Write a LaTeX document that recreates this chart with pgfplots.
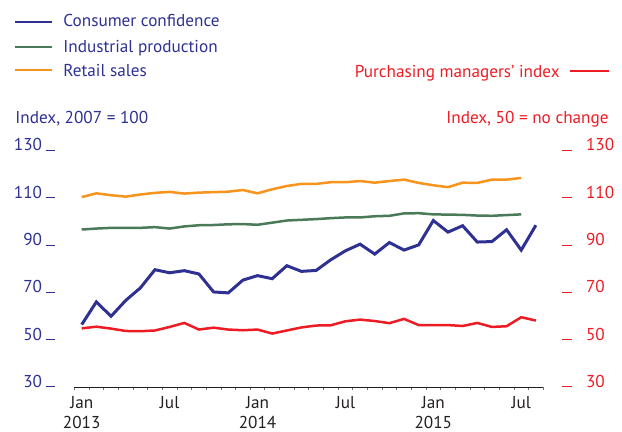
\documentclass[border=0pt]{standalone}
\usepackage{fontspec}
\setmainfont{PT Sans}
\usepackage{pgfplots}
\usepackage{pgfplotstable}
\pgfplotsset{compat=1.18}
\definecolor{cblue}{HTML}{2E3192}
\definecolor{cgreen}{HTML}{4A7A5A}
\definecolor{corange}{HTML}{F7941D}
\definecolor{cred}{HTML}{ED1C24}
\definecolor{ctext}{HTML}{231F20}

% months counted from Jan 2013 (0); consumer confidence and PMI run to Aug 2015 (31)
\pgfplotstableread{
m   cc     pmi
0   56.6   55.0
1   66.2   55.7
2   60.1   54.9
3   66.8   53.9
4   72.1   53.8
5   79.8   54.1
6   78.5   55.6
7   79.4   57.3
8   78.0   54.5
9   70.4   55.3
10  70.0   54.5
11  75.4   54.2
12  77.3   54.5
13  76.0   52.8
14  81.5   54.1
15  79.1   55.4
16  79.5   56.2
17  84.0   56.3
18  87.8   58.0
19  90.6   58.7
20  86.4   58.1
21  91.3   57.2
22  88.1   59.0
23  90.3   56.4
24  100.6  56.4
25  95.7   56.4
26  98.4   56.0
27  91.5   57.3
28  91.7   55.6
29  96.7   55.9
30  88.1   59.7
31  98.6   58.3
}\monthly
% industrial production and retail sales run to Jul 2015 (30)
\pgfplotstableread{
m   ip     rs
0   96.8   110.5
1   97.2   112.1
2   97.5   111.3
3   97.5   110.7
4   97.5   111.6
5   97.8   112.3
6   97.2   112.7
7   98.1   112.0
8   98.6   112.4
9   98.7   112.6
10  99.0   112.8
11  99.1   113.5
12  98.8   112.1
13  99.7   113.8
14  100.6  115.2
15  100.9  116.1
16  101.2  116.1
17  101.6  116.8
18  101.9  116.8
19  101.9  117.3
20  102.4  116.6
21  102.6  117.3
22  103.6  117.9
23  103.7  116.5
24  103.2  115.5
25  103.1  114.7
26  103.0  116.6
27  102.7  116.5
28  102.6  117.9
29  102.9  117.9
30  103.2  118.6
}\activity

\begin{document}
\begin{tikzpicture}[font=\fontsize{8.6}{10}\selectfont]
\pgfplotsset{
  base/.style={
    at={(0,0)}, anchor=south west,
    scale only axis, width=234.4pt, height=118.25pt,
    xmin=-0.5, xmax=31.5, ymin=30, ymax=130,
    ytick={30,50,...,130},
    /pgf/number format/assume math mode=true,
    clip=false,
  }
}
\begin{axis}[base,
  axis x line*=bottom, axis y line*=left,
  y axis line style={draw=none},
  x axis line style={line width=0.6pt, ctext},
  xtick={0,6,12,18,24,30},
  xticklabels={{Jan\\2013},{Jul},{Jan\\2014},{Jul},{Jan\\2015},{Jul}},
  xticklabel style={align=center, anchor=north, inner sep=0pt, yshift=-4.5pt, text=ctext},
  minor xtick={-0.5,0.5,...,31.5},
  major tick length=0pt, minor tick length=1.3pt,
  tick align=outside,
  minor tick style={black!55, line width=0.4pt},
  yticklabel={\pgfmathprintnumber{\tick}\hspace{1.8pt}\rule{4.85pt}{0.5pt}},
  yticklabel style={anchor=base east, inner sep=0pt, xshift=-9.35pt, text=cblue},
]
\addplot[corange, line width=1.25pt, mark=none] table[x=m, y=rs] {\activity};
\addplot[cgreen, line width=1.25pt, mark=none] table[x=m, y=ip] {\activity};
\addplot[cblue, line width=1.5pt, mark=none] table[x=m, y=cc] {\monthly};
\end{axis}
\begin{axis}[base,
  axis x line=none, axis y line*=right,
  y axis line style={draw=none},
  major tick length=0pt,
  yticklabel={\rule{5pt}{0.5pt}\hspace{6.85pt}\pgfmathprintnumber{\tick}},
  yticklabel style={anchor=base west, inner sep=0pt, xshift=9.4pt, text=cred},
]
\addplot[cred, line width=1.25pt, mark=none] table[x=m, y=pmi] {\monthly};
\end{axis}

% legend and axis titles
\draw[cblue, line width=1pt] (-29.7pt,182.9pt) -- (-11.2pt,182.9pt);
\node[anchor=base west, inner sep=0pt, text=cblue] at (-5.7pt,180.25pt) {Consumer confidence};
\draw[cgreen, line width=1pt] (-29.7pt,170.4pt) -- (-11.2pt,170.4pt);
\node[anchor=base west, inner sep=0pt, text=cblue] at (-5.7pt,167.4pt) {Industrial production};
\draw[corange, line width=1pt] (-29.7pt,158.75pt) -- (-11.2pt,158.75pt);
\node[anchor=base west, inner sep=0pt, text=cblue] at (-5.7pt,155.6pt) {Retail sales};
\node[anchor=base east, inner sep=0pt, text=cred] at (242.8pt,155.1pt) {Purchasing managers’ index};
\draw[cred, line width=1pt] (247.8pt,158.25pt) -- (267.3pt,158.25pt);
\node[anchor=base west, inner sep=0pt, text=cblue] at (-29.7pt,132.1pt) {Index, 2007 = 100};
\node[anchor=base east, inner sep=0pt, text=cred] at (267.3pt,132.1pt) {Index, 50 = no change};

\pgfresetboundingbox
\useasboundingbox (-37.2pt,-22.25pt) rectangle (273.8pt,193.75pt);
\end{tikzpicture}
\end{document}
